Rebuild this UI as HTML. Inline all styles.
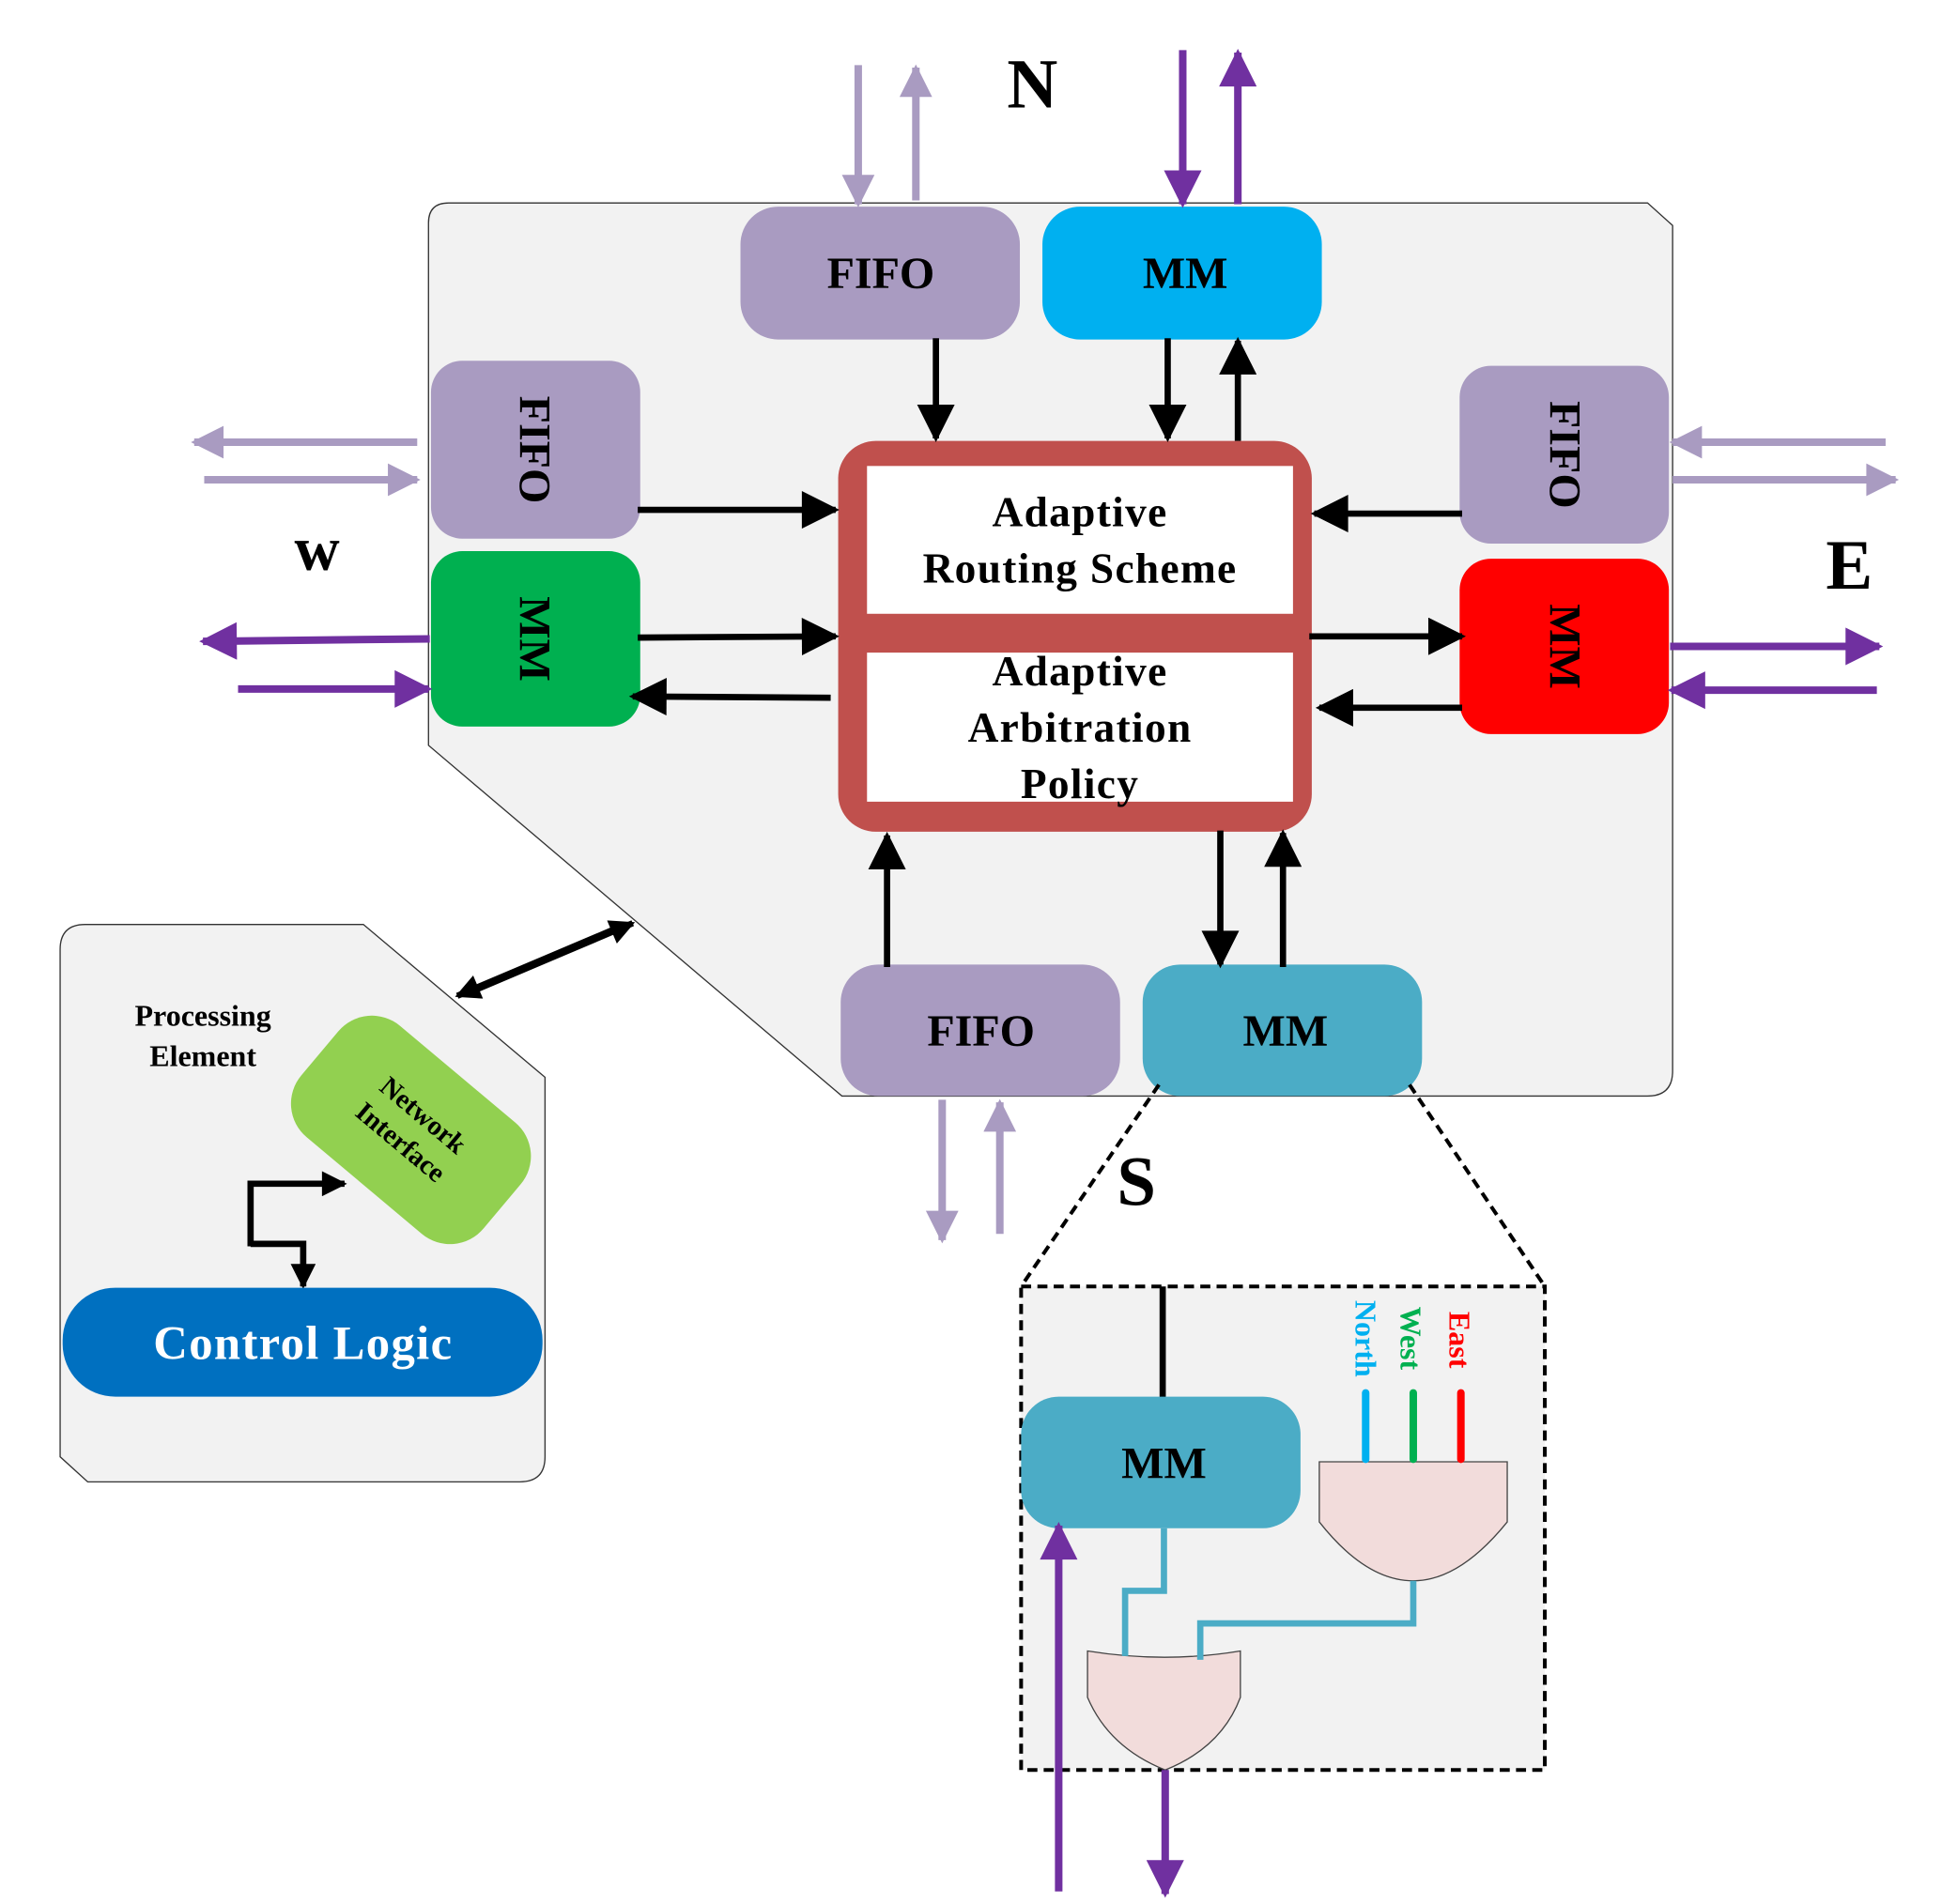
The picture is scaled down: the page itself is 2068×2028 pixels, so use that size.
<!DOCTYPE html>
<html><head><meta charset="utf-8"><style>html,body{margin:0;padding:0;background:#fff}svg{display:block}</style></head><body>
<svg width="2068" height="2028" viewBox="0 0 1550 1520" xmlns="http://www.w3.org/2000/svg" font-family="Liberation Serif, serif" font-weight="bold">
<defs>
<marker id="abk" viewBox="0 0 10 10" refX="9" refY="5" markerWidth="40" markerHeight="30" orient="auto" markerUnits="userSpaceOnUse"><path d="M0,0 L10,5 L0,10 z" fill="#000"/></marker>
<marker id="al" viewBox="0 0 10 10" refX="9" refY="5" markerWidth="46" markerHeight="26" orient="auto" markerUnits="userSpaceOnUse"><path d="M0,0 L10,5 L0,10 z" fill="#a99bc1"/></marker>
<marker id="ap" viewBox="0 0 10 10" refX="9" refY="5" markerWidth="46" markerHeight="30" orient="auto" markerUnits="userSpaceOnUse"><path d="M0,0 L10,5 L0,10 z" fill="#7030a0"/></marker>
<marker id="as" viewBox="0 0 10 10" refX="9" refY="5" markerWidth="26" markerHeight="20" orient="auto" markerUnits="userSpaceOnUse"><path d="M0,0 L10,5 L0,10 z" fill="#000"/></marker>
</defs>
<path d="M358,162 L1315,162 L1335,180 L1335,855 Q1335,875 1315,875 L672,875 L342,595 L342,178 Q342,162 358,162 Z" fill="#f2f2f2" stroke="#333" stroke-width="1"/>
<path d="M68,738 L290,738 L435,860 L435,1163 Q435,1183 415,1183 L70,1183 L48,1163 L48,758 Q48,738 68,738 Z" fill="#f2f2f2" stroke="#333" stroke-width="1"/>
<rect x="591" y="165" width="223" height="106" rx="30" fill="#a99bc1"/>
<text x="703" y="230" font-size="36" text-anchor="middle">FIFO</text>
<rect x="832" y="165" width="223" height="106" rx="30" fill="#00b0f0"/>
<text x="946" y="230" font-size="36" text-anchor="middle">MM</text>
<rect x="344" y="288" width="167" height="142" rx="25" fill="#a99bc1"/>
<text transform="translate(415,359) rotate(90)" font-size="36" text-anchor="middle">FIFO</text>
<rect x="344" y="440" width="167" height="140" rx="25" fill="#00b050"/>
<text transform="translate(415,510) rotate(90)" font-size="36" text-anchor="middle">MM</text>
<rect x="1165" y="292" width="167" height="142" rx="25" fill="#a99bc1"/>
<text transform="translate(1237,363) rotate(90)" font-size="36" text-anchor="middle">FIFO</text>
<rect x="1165" y="446" width="167" height="140" rx="25" fill="#ff0000"/>
<text transform="translate(1237,516) rotate(90)" font-size="36" text-anchor="middle">MM</text>
<rect x="671" y="770" width="223" height="105" rx="30" fill="#a99bc1"/>
<text x="783" y="835" font-size="36" text-anchor="middle">FIFO</text>
<rect x="912" y="770" width="223" height="105" rx="30" fill="#4bacc6"/>
<text x="1026" y="835" font-size="36" text-anchor="middle">MM</text>
<rect x="669" y="352" width="378" height="312" rx="30" fill="#c0504d"/>
<rect x="692" y="372" width="340" height="118" fill="#fff"/>
<rect x="692" y="521" width="340" height="119" fill="#fff"/>
<text x="862" y="420" font-size="34" text-anchor="middle" letter-spacing="1">Adaptive</text>
<text x="862" y="465" font-size="34" text-anchor="middle" letter-spacing="1">Routing Scheme</text>
<text x="862" y="547" font-size="34" text-anchor="middle" letter-spacing="1">Adaptive</text>
<text x="862" y="592" font-size="34" text-anchor="middle" letter-spacing="1">Arbitration</text>
<text x="862" y="637" font-size="34" text-anchor="middle" letter-spacing="1">Policy</text>
<text x="824" y="86" font-size="56" text-anchor="middle">N</text>
<text x="253" y="455" font-size="50" text-anchor="middle">w</text>
<text x="1476" y="470" font-size="56" text-anchor="middle">E</text>
<text x="907" y="962" font-size="56" text-anchor="middle">S</text>
<g stroke="#000" stroke-width="5" fill="none">
<line x1="747" y1="270" x2="747" y2="350" marker-end="url(#abk)"/>
<line x1="932" y1="270" x2="932" y2="350" marker-end="url(#abk)"/>
<line x1="988" y1="352" x2="988" y2="272" marker-end="url(#abk)"/>
<line x1="509" y1="407" x2="667" y2="407" marker-end="url(#abk)"/>
<line x1="509" y1="509" x2="667" y2="508" marker-end="url(#abk)"/>
<line x1="663" y1="557" x2="505" y2="556" marker-end="url(#abk)"/>
<line x1="1167" y1="410" x2="1049" y2="410" marker-end="url(#abk)"/>
<line x1="1045" y1="508" x2="1167" y2="508" marker-end="url(#abk)"/>
<line x1="1167" y1="565" x2="1053" y2="565" marker-end="url(#abk)"/>
<line x1="708" y1="772" x2="708" y2="667" marker-end="url(#abk)"/>
<line x1="974" y1="663" x2="974" y2="770" marker-end="url(#abk)"/>
<line x1="1024" y1="772" x2="1024" y2="665" marker-end="url(#abk)"/>
<line x1="380" y1="790" x2="505" y2="737" marker-end="url(#as)"/>
<line x1="490" y1="742" x2="365" y2="795" marker-end="url(#as)"/>
<polyline points="200,995 200,945 275,945" marker-end="url(#as)"/>
<polyline points="200,993 242,993 242,1027" marker-end="url(#as)"/>
</g>
<g stroke="#a99bc1" stroke-width="6" fill="none">
<line x1="685" y1="52" x2="685" y2="163" marker-end="url(#al)"/>
<line x1="731" y1="160" x2="731" y2="54" marker-end="url(#al)"/>
<line x1="333" y1="353" x2="155" y2="353" marker-end="url(#al)"/>
<line x1="163" y1="383" x2="333" y2="383" marker-end="url(#al)"/>
<line x1="1505" y1="353" x2="1335" y2="353" marker-end="url(#al)"/>
<line x1="1335" y1="383" x2="1513" y2="383" marker-end="url(#al)"/>
<line x1="752" y1="878" x2="752" y2="990" marker-end="url(#al)"/>
<line x1="798" y1="985" x2="798" y2="880" marker-end="url(#al)"/>
</g>
<g stroke="#7030a0" stroke-width="6" fill="none">
<line x1="944" y1="40" x2="944" y2="163" marker-end="url(#ap)"/>
<line x1="988" y1="163" x2="988" y2="42" marker-end="url(#ap)"/>
<line x1="343" y1="510" x2="162" y2="512" marker-end="url(#ap)"/>
<line x1="190" y1="550" x2="342" y2="550" marker-end="url(#ap)"/>
<line x1="1333" y1="516" x2="1500" y2="516" marker-end="url(#ap)"/>
<line x1="1498" y1="551" x2="1334" y2="551" marker-end="url(#ap)"/>
</g>
<text x="162" y="819" font-size="24" text-anchor="middle">Processing</text>
<text x="162" y="851" font-size="24" text-anchor="middle">Element</text>
<g transform="translate(328,902) rotate(40)">
<rect x="-95" y="-58" width="190" height="116" rx="35" fill="#92d050"/>
<text x="0" y="-8" font-size="22" text-anchor="middle">Network</text>
<text x="0" y="20" font-size="22" text-anchor="middle">Interface</text>
</g>
<rect x="50" y="1028" width="383" height="87" rx="42" fill="#0070c0"/>
<text x="242" y="1085" font-size="38" fill="#fff" text-anchor="middle" letter-spacing="1">Control Logic</text>
<rect x="815" y="1027" width="418" height="386" fill="#f2f2f2" stroke="#000" stroke-width="3" stroke-dasharray="8,5"/>
<line x1="925" y1="866" x2="815" y2="1027" stroke="#000" stroke-width="3" stroke-dasharray="8,5"/>
<line x1="1125" y1="866" x2="1233" y2="1027" stroke="#000" stroke-width="3" stroke-dasharray="8,5"/>
<line x1="928" y1="1027" x2="928" y2="1117" stroke="#000" stroke-width="5"/>
<rect x="815" y="1115" width="223" height="105" rx="30" fill="#4bacc6"/>
<text x="929" y="1180" font-size="36" text-anchor="middle">MM</text>
<path d="M1053,1167 L1203,1167 L1203,1215 Q1165,1262 1128,1262 Q1090,1262 1053,1215 Z" fill="#f2dcdb" stroke="#444" stroke-width="1"/>
<g stroke-width="6" stroke-linecap="round">
<line x1="1090" y1="1112" x2="1090" y2="1165" stroke="#00b0f0"/>
<line x1="1128" y1="1112" x2="1128" y2="1165" stroke="#00b050"/>
<line x1="1166" y1="1112" x2="1166" y2="1165" stroke="#ff0000"/>
</g>
<text transform="translate(1082,1038) rotate(90)" font-size="24" fill="#00b0f0">North</text>
<text transform="translate(1118,1043) rotate(90)" font-size="24" fill="#00b050">West</text>
<text transform="translate(1157,1047) rotate(90)" font-size="24" fill="#ff0000">East</text>
<path d="M868,1318 Q930,1328 990,1318 L990,1355 Q975,1395 930,1413 Q885,1395 868,1355 Z" fill="#f2dcdb" stroke="#444" stroke-width="1"/>
<g stroke="#4bacc6" stroke-width="5" fill="none">
<polyline points="929,1220 929,1270 898,1270 898,1322"/>
<polyline points="1128,1262 1128,1296 958,1296 958,1325"/>
</g>
<g stroke="#7030a0" stroke-width="6" fill="none">
<line x1="845" y1="1510" x2="845" y2="1218" marker-end="url(#ap)"/>
<line x1="930" y1="1413" x2="930" y2="1512" marker-end="url(#ap)"/>
</g>
</svg>
</body></html>
